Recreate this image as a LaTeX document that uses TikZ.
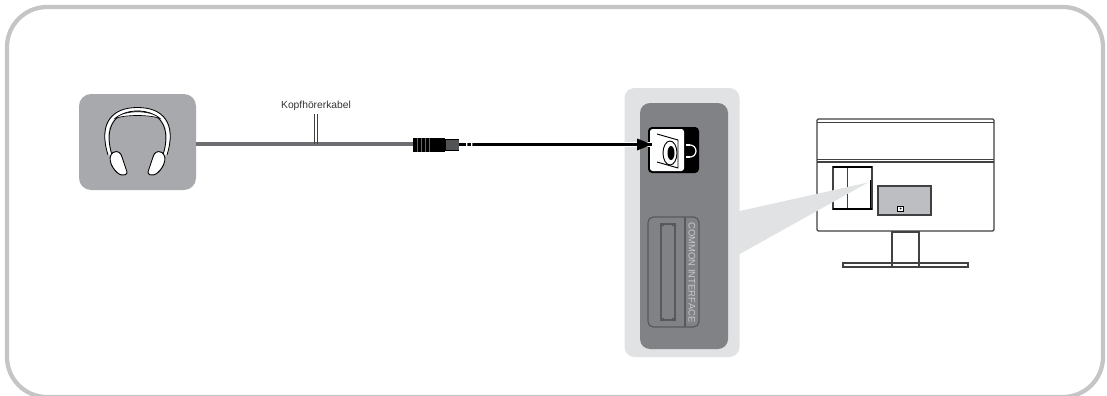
\documentclass[tikz,border=0pt]{standalone}
\usepackage{fontspec}
\setmainfont{Liberation Sans}
\usepackage{xcolor}
\definecolor{framegray}{HTML}{C4C5C7}
\definecolor{boxgray}{HTML}{A7A9AC}
\definecolor{panellight}{HTML}{E1E2E3}
\definecolor{paneldark}{HTML}{808285}
\definecolor{cablegray}{HTML}{6D6E71}
\definecolor{slotgray}{HTML}{58595B}
\definecolor{slottext}{HTML}{C8C9CB}
\definecolor{tvline}{HTML}{414042}
\tikzset{
  plainbox/.style={rectangle, inner sep=0pt, outer sep=0pt},
  tvpart/.style={plainbox, draw=tvline, line width=0.9pt},
  cuppart/.style={fill=white, draw=black, line width=0.7pt, line join=round}
}
\begin{document}
\begin{tikzpicture}[x=0.75pt,y=-0.75pt]
\useasboundingbox (0,0) rectangle (1107,396);
\node[plainbox, draw=framegray, line width=3.2pt, rounded corners=30pt, minimum width=822pt, minimum height=292.5pt] (frame) at (555,202) {};
\node[plainbox, fill=boxgray, rounded corners=9pt, minimum width=87.75pt, minimum height=72pt] (headset) at (137.5,142) {};
\draw[white, line width=2.4pt] (110,155) .. controls (100,125) and (114,109) .. (137.5,109) .. controls (161,109) and (175,125) .. (165,155);
\draw[black, line width=0.6pt] (108,155) .. controls (98,123) and (112,107.5) .. (137.5,107.5) .. controls (163,107.5) and (177,123) .. (167,155);
\draw[black, line width=0.6pt] (112,155) .. controls (103,126) and (116,111) .. (137.5,111) .. controls (159,111) and (172,126) .. (163,155);
\fill[white, draw=black, line width=0.5pt] (115,118.5) .. controls (124,109.5) and (151,109.5) .. (160,118.5) .. controls (150,114.5) and (125,114.5) .. (115,118.5) -- cycle;
\draw[cuppart] (113,152.5) .. controls (118,150) and (121,153) .. (122,157) -- (127,172) .. controls (127.5,175) and (123,175.5) .. (120,174.5) .. controls (113,171) and (106,158) .. (113,152.5) -- cycle;
\draw[cuppart] (162,152.5) .. controls (157,150) and (154,153) .. (153,157) -- (148,172) .. controls (147.5,175) and (152,175.5) .. (155,174.5) .. controls (162,171) and (169,158) .. (162,152.5) -- cycle;
\node[plainbox, fill=panellight, rounded corners=7.5pt, minimum width=86.25pt, minimum height=201.75pt] (panelback) at (682,222.5) {};
\node[plainbox, fill=paneldark, rounded corners=7.5pt, minimum width=66pt, minimum height=184.5pt] (panel) at (684,226) {};
\node[plainbox, fill=black, rounded corners=3pt, minimum width=38.25pt, minimum height=34.5pt] (port) at (673.5,150) {};
\fill[white, rounded corners=2pt] (650,129) -- (684,129) -- (684,171) -- (650,171) -- cycle;
\draw[black, line width=0.7pt, line join=round] (657,134) -- (678,140) -- (678,168) -- (657,162);
\draw[black, line width=0.7pt] (670,153) ellipse (7 and 12);
\fill[black] (671,153) ellipse (3.5 and 7);
\draw[white, line width=0.9pt] (690,145) arc (-90:90:6);
\draw[white, line width=1.6pt] (686,145) -- (690,145) (686,157) -- (690,157);
\node[plainbox, draw=slotgray, line width=0.9pt, rounded corners=4pt, minimum width=38.25pt, minimum height=82.5pt] (slot) at (673.5,272) {};
\draw[slotgray, line width=0.9pt] (slot.north west) ++(37,0) -- ++(0,110);
\node[plainbox, draw=slotgray, line width=1.1pt, minimum width=10.5pt, minimum height=72pt] (slotgap) at (668,272) {};
\fill[slotgray] (660,223) rectangle (664,226) (672,223) rectangle (676,226) (660,318) rectangle (664,321) (672,318) rectangle (676,321);
\node[rotate=-90, text=slottext, font=\fontsize{7.1}{8}\selectfont, inner sep=0pt] (slotlabel) at (692,272.5) {COMMON INTERFACE};
\node[plainbox, minimum width=34.5pt, minimum height=11.25pt] (jack) at (436,144.5) {};
\coordinate (porttip) at (652,144.5);
\coordinate (cablejoin) at (316,144);
\draw[cablegray, line width=3pt] (headset.east |- cablejoin) -- (jack.west |- cablejoin);
\fill[black] (413,137.5) rectangle (445,152);
\fill[black] (445,138.5) rectangle (459,150.5);
\fill[cablegray!75!black] (446,139.5) rectangle (458.5,149.5);
\foreach \ribx in {417,421,425,429}
  \draw[white!40!black, line width=0.3pt] (\ribx,137.5) -- (\ribx,152);
\draw[white, line width=3.6pt] (jack.east) -- (porttip);
\draw[black, line width=2.1pt] (jack.east) -- (porttip);
\fill[white] (466,143) rectangle (467.3,146) (471,143) rectangle (472.3,146);
\fill[black] (637,138.5) -- (652,144.5) -- (637,150.5) -- cycle;
\node[font=\fontsize{7.7}{9}\selectfont, text=black!80, inner sep=0pt] (cablelabel) at (316,105.5) {Kopfhörerkabel};
\draw[black!75, line width=0.4pt] ([xshift=-1pt]cablelabel.south |- 0,114) -- ([xshift=-1pt]cablejoin);
\draw[black!75, line width=0.4pt] ([xshift=1pt]cablelabel.south |- 0,114) -- ([xshift=1pt]cablejoin);
\node[tvpart, fill=white, rounded corners=1pt, minimum width=132.75pt, minimum height=84pt] (tvbody) at (905.5,175) {};
\draw[tvline, line width=0.9pt] (tvbody.north west) ++(0,3.5) -- ++(177,0);
\draw[tvline, line width=0.9pt] (817,159.5) -- (994,159.5) (817,162) -- (994,162);
\node[tvpart, minimum width=20.25pt, minimum height=24pt] (tvneck) at (905.5,248) {};
\node[tvpart, fill=white, minimum width=93.75pt, minimum height=3pt] (tvbase) at (905.5,265) {};
\draw[tvline, line width=0.9pt] (tvneck.west |- tvbase.north) -- (tvneck.west |- tvbase.south) (tvneck.east |- tvbase.north) -- (tvneck.east |- tvbase.south);
\node[tvpart, minimum width=29.25pt, minimum height=31.5pt] (tvslot) at (852.5,188) {};
\draw[tvline, line width=0.7pt] (847,167) -- (847,209);
\draw[black, line width=1.2pt] (833,167) -- (872,167) (833,209) -- (872,209) (870.5,180) -- (870.5,209);
\node[tvpart, fill=boxgray!75, minimum width=39.75pt, minimum height=21.75pt] (tvstand) at (904.5,200.5) {};
\node[plainbox, draw=black, fill=white, line width=0.5pt, minimum width=4.5pt, minimum height=3.75pt] (tvicon) at (900.5,208.5) {};
\fill[black] (tvicon.center) circle (1);
\fill[panellight] (738,211.4) -- (868,182.5) -- (738,255) -- cycle;
\end{tikzpicture}
\end{document}
